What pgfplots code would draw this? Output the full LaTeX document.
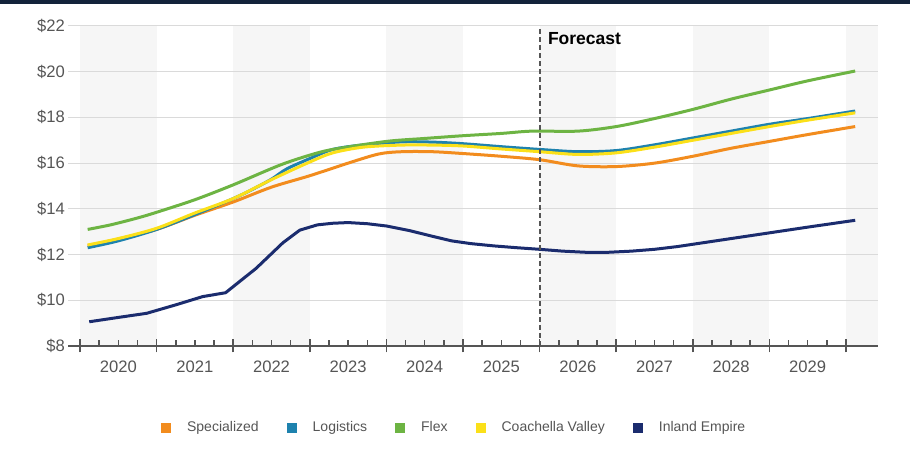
\documentclass[border=0pt]{standalone}
\usepackage{pgfplots}
\pgfplotsset{compat=1.18}
\usepackage{fontspec}
\setmainfont{Liberation Sans}

\definecolor{cSpec}{HTML}{F28C1E}
\definecolor{cLog}{HTML}{1E82AE}
\definecolor{cFlex}{HTML}{6DB443}
\definecolor{cCoach}{HTML}{FBE019}
\definecolor{cInland}{HTML}{1B2C6E}
\definecolor{band}{HTML}{F6F6F6}
\definecolor{gridc}{HTML}{DADADA}
\definecolor{axisc}{HTML}{555555}
\definecolor{labc}{HTML}{555555}
\definecolor{topbar}{HTML}{13233A}

% x = years since 2020
\begin{document}
\begin{tikzpicture}
\path[use as bounding box] (-34pt,-56pt) rectangle (421pt,173pt);
\fill[topbar] (-34pt,170.8pt) rectangle (421pt,173pt);
\begin{axis}[
    axis on top,
    scale only axis,
    width=405pt, height=160pt,
    xmin=-0.157, xmax=10.418,
    ymin=8, ymax=22,
    axis x line*=bottom,
    axis y line*=left,
    y axis line style={draw=none},
    x axis line style={axisc, line width=0.75pt},
    ytick={8,10,...,22},
    yticklabels={\$8,\$10,\$12,\$14,\$16,\$18,\$20,\$22},
    ytick style={draw=none},
    yticklabel style={xshift=2pt},
    xtick={0,...,10},
    xticklabels={},
    minor x tick num=3,
    tick align=inside,
    major tick length=6.5pt,
    minor tick length=3pt,
    major tick style={yshift=-3.25pt},
    x tick style={axisc, line width=0.75pt},
    extra x ticks={0.5,1.5,2.5,3.5,4.5,5.5,6.5,7.5,8.5,9.5},
    extra x tick labels={2020,2021,2022,2023,2024,2025,2026,2027,2028,2029},
    extra x tick style={major tick length=0pt, tick style={draw=none}, xticklabel style={yshift=-4pt}},
    tick label style={font=\fontsize{8.3}{10}\selectfont, text=labc},
    legend columns=5,
    legend style={draw=none, fill=none, at={(0.478,-0.256)}, anchor=center,
        font=\fontsize{7}{8}\selectfont, text=labc,
        /tikz/every even column/.append style={column sep=12pt}},
    legend image code/.code={\fill[#1, draw=none] (0pt,-2.5pt) rectangle (5pt,2.5pt); \path[draw=none] (5pt,0pt) -- (11pt,0pt);},
]

% alternating year bands
\addplot[fill=band, draw=none, forget plot] coordinates {(0,8) (0,22) (1,22) (1,8)};
\addplot[fill=band, draw=none, forget plot] coordinates {(2,8) (2,22) (3,22) (3,8)};
\addplot[fill=band, draw=none, forget plot] coordinates {(4,8) (4,22) (5,22) (5,8)};
\addplot[fill=band, draw=none, forget plot] coordinates {(6,8) (6,22) (7,22) (7,8)};
\addplot[fill=band, draw=none, forget plot] coordinates {(8,8) (8,22) (9,22) (9,8)};
\addplot[fill=band, draw=none, forget plot] coordinates {(10,8) (10,22) (10.418,22) (10.418,8)};

% horizontal grid
\foreach \g in {10,12,...,22} {
  \addplot[gridc, line width=0.5pt, forget plot] coordinates {(-0.157,\g) (10.418,\g)};
}

% Specialized
\addplot[cSpec, line width=1.5pt, smooth] coordinates {
(0.1,12.38)(0.5,12.68)(1.0,13.1)(1.5,13.72)(2.0,14.3)(2.5,14.95)
(3.0,15.45)(3.5,16.0)(3.9,16.4)(4.2,16.5)(4.6,16.5)(5.0,16.42)
(5.5,16.3)(6.0,16.15)(6.5,15.88)(7.0,15.85)(7.5,16.0)(8.0,16.3)
(8.5,16.65)(9.0,16.95)(9.5,17.25)(10.12,17.6)};
\addlegendentry{Specialized}

% Logistics
\addplot[cLog, line width=1.5pt, smooth] coordinates {
(0.1,12.3)(0.5,12.6)(1.0,13.1)(1.5,13.75)(2.0,14.45)(2.25,14.85)(2.5,15.3)
(2.7,15.75)(3.0,16.2)(3.3,16.6)(3.7,16.8)(4.2,16.93)(4.6,16.92)(5.0,16.85)
(5.5,16.72)(6.0,16.6)(6.5,16.5)(7.0,16.55)(7.5,16.8)(8.0,17.1)
(8.5,17.4)(9.0,17.7)(9.5,17.95)(10.12,18.28)};
\addlegendentry{Logistics}

% Flex
\addplot[cFlex, line width=1.5pt, smooth] coordinates {
(0.1,13.1)(0.4,13.3)(0.75,13.6)(1.0,13.85)(1.5,14.4)(2.0,15.05)
(2.6,15.9)(3.0,16.35)(3.3,16.6)(4.0,16.95)(4.5,17.08)
(5.0,17.2)(5.5,17.3)(5.9,17.4)(6.5,17.4)(7.0,17.6)(7.5,17.95)
(8.0,18.35)(8.5,18.8)(9.0,19.2)(9.5,19.6)(10.12,20.03)};
\addlegendentry{Flex}

% Coachella Valley
\addplot[cCoach, line width=1.5pt, smooth] coordinates {
(0.1,12.42)(0.5,12.7)(1.0,13.15)(1.5,13.82)(2.0,14.45)(2.5,15.28)
(3.0,16.05)(3.3,16.45)(3.7,16.7)(4.2,16.79)(4.6,16.79)(5.0,16.75)
(5.5,16.62)(6.0,16.5)(6.5,16.38)(7.0,16.45)(7.5,16.7)(8.0,17.0)
(8.5,17.3)(9.0,17.6)(9.5,17.88)(10.12,18.2)};
\addlegendentry{Coachella Valley}

% Inland Empire
\addplot[cInland, line width=1.5pt] coordinates {
(0.12,9.06)(0.5,9.25)(0.87,9.43)(1.25,9.8)(1.6,10.16)(1.9,10.33)
(2.3,11.4)(2.65,12.52)(2.87,13.07)(3.1,13.3)(3.3,13.37)(3.5,13.4)
(3.75,13.35)(4.0,13.25)(4.3,13.05)(4.6,12.8)(4.85,12.6)(5.1,12.48)
(5.4,12.38)(5.7,12.3)(6.0,12.23)(6.3,12.15)(6.6,12.1)(6.9,12.1)
(7.2,12.15)(7.5,12.23)(7.8,12.35)(8.1,12.5)(8.5,12.7)(9.0,12.95)
(9.5,13.2)(10.12,13.5)};
\addlegendentry{Inland Empire}

% forecast divider
\addplot[axisc, line width=1pt, dash pattern=on 2.5pt off 1.5pt, forget plot] coordinates {(6,8)(6,22)};
\node[anchor=west, font=\fontsize{8.75}{10}\selectfont\bfseries, inner sep=0pt, xshift=4pt] at (axis cs:6,21.45) {Forecast};
\end{axis}
\end{tikzpicture}
\end{document}
